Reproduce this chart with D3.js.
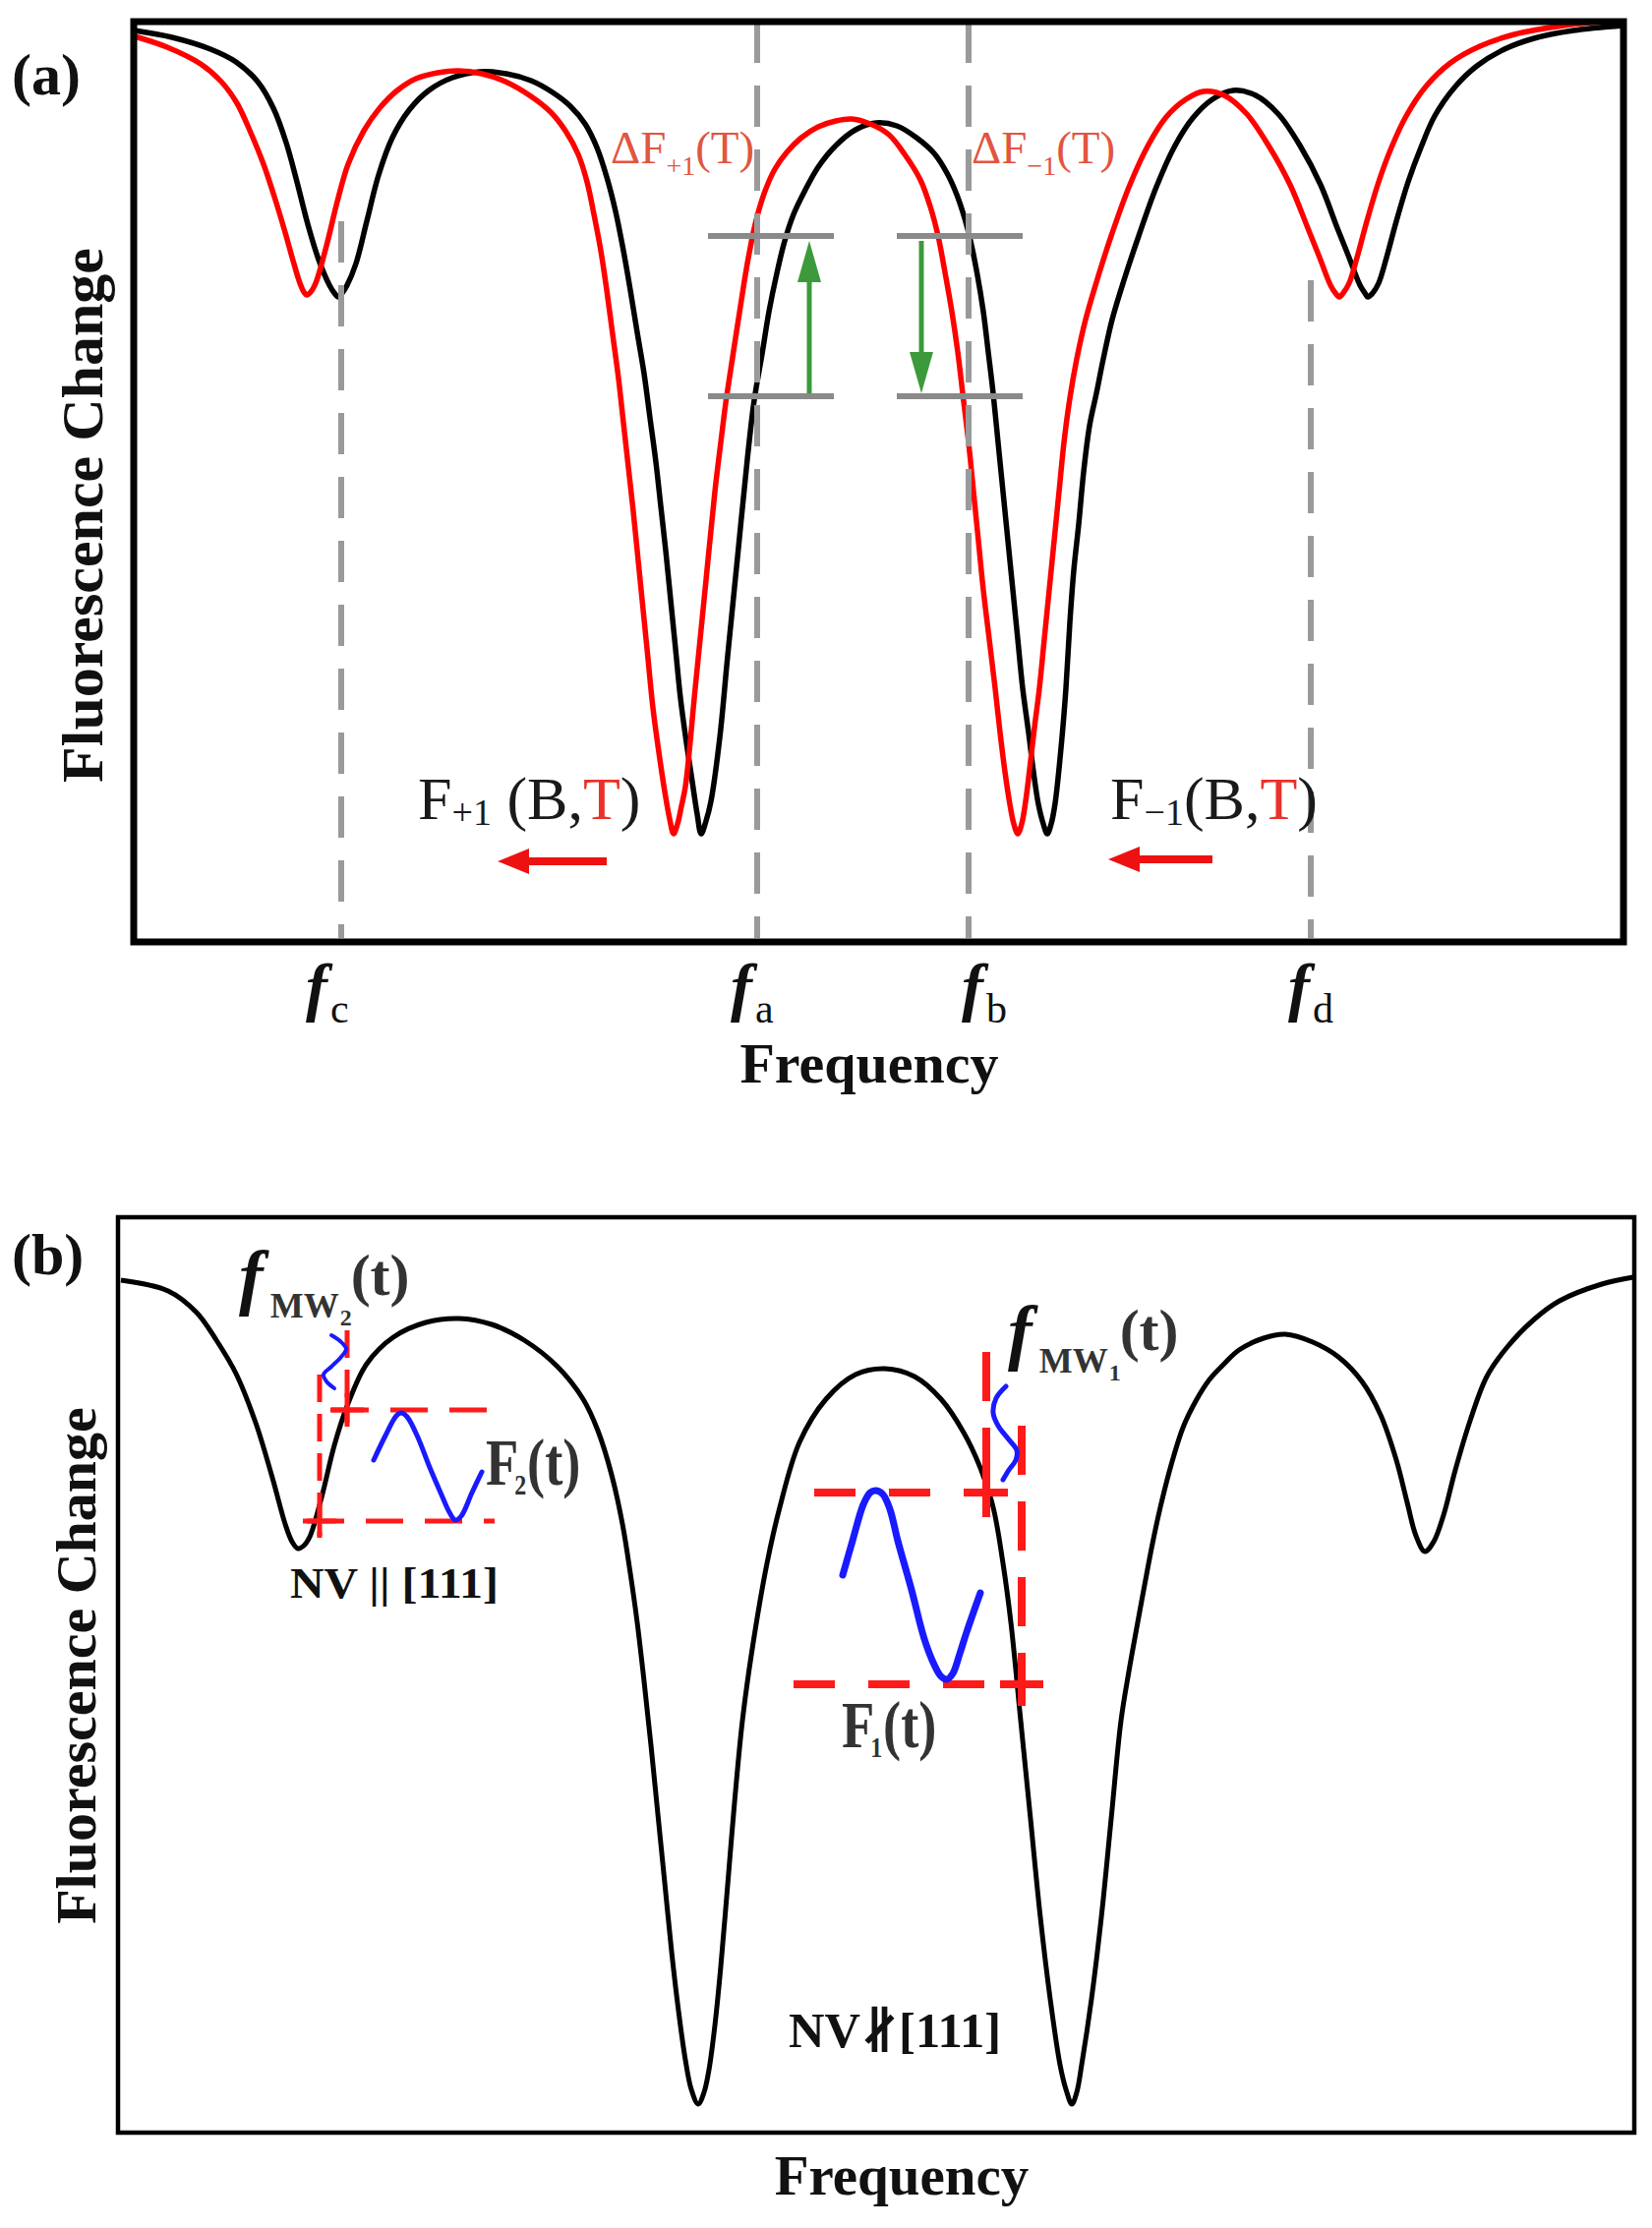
<!DOCTYPE html>
<html><head><meta charset="utf-8">
<script src="https://cdn.jsdelivr.net/npm/d3@7"></script>
<style>
html,body{margin:0;padding:0;background:#fff;}
svg{display:block;}
text{font-family:"Liberation Serif","Times New Roman","DejaVu Serif",serif;}
</style></head><body>
<script>
// ---------------- DATA (arbitrary frequency / fluorescence units) ----------------
// Panel (a): ODMR spectra, black = reference, red = shifted by temperature
const blackA = [[1,927],[39,920],[78,908],[104,895],[126,875],[142,848],[155,813],[166,773],[177,730],[188,694],[199,668],[204,660],[208,656],[212,660],[217,668],[226,690],[237,733],[249,780],[263,818],[280,846],[300,866],[324,879],[352,885],[379,883],[404,876],[426,864],[444,850],[459,832],[471,808],[481,778],[490,743],[498,703],[505,663],[512,620],[519,578],[525,533],[531,488],[536,443],[541,398],[546,348],[551,298],[556,248],[562,203],[568,163],[573,130],[577,110],[582,123],[587,143],[596,208],[604,291],[614,391],[624,491],[631,551],[639,598],[646,641],[654,680],[662,713],[671,740],[682,763],[696,788],[714,810],[734,826],[755,833],[776,830],[796,818],[814,802],[827,782],[837,760],[845,736],[851,713],[858,678],[864,641],[869,600],[874,558],[879,508],[884,458],[889,408],[894,358],[899,308],[904,258],[910,213],[915,173],[920,140],[925,120],[929,110],[933,120],[937,141],[944,208],[948,258],[952,325],[956,378],[961,425],[966,478],[972,525],[979,558],[986,593],[995,633],[1007,673],[1022,718],[1040,768],[1059,810],[1077,838],[1097,857],[1118,866],[1141,861],[1164,842],[1186,810],[1207,770],[1224,726],[1236,696],[1247,668],[1252,660],[1255,656],[1260,660],[1266,670],[1274,696],[1284,733],[1296,773],[1309,808],[1323,840],[1344,870],[1366,891],[1394,908],[1424,919],[1464,927],[1515,932]];
const redA = [[1,921],[34,910],[68,893],[89,875],[105,853],[119,823],[132,791],[143,758],[153,725],[162,693],[169,670],[173,661],[176,658],[180,661],[185,670],[196,708],[207,753],[218,791],[234,825],[250,848],[268,866],[287,878],[309,884],[330,886],[354,883],[378,875],[404,860],[424,844],[439,825],[452,801],[461,773],[468,740],[475,703],[481,663],[487,618],[493,573],[498,528],[503,483],[508,438],[513,388],[518,338],[523,288],[528,238],[534,193],[540,153],[545,125],[549,110],[553,120],[557,138],[561,158],[571,258],[581,358],[591,458],[597,508],[602,548],[608,588],[616,640],[624,690],[632,730],[641,761],[652,786],[664,803],[679,818],[696,829],[714,835],[730,837],[749,832],[768,821],[784,801],[800,775],[810,748],[818,718],[825,681],[832,641],[838,600],[843,558],[849,508],[854,458],[859,408],[864,358],[870,308],[876,258],[881,213],[886,173],[891,140],[895,120],[899,110],[903,120],[907,143],[911,175],[916,218],[921,258],[926,308],[931,358],[936,408],[941,458],[946,508],[952,553],[959,593],[968,633],[979,671],[994,718],[1013,770],[1032,811],[1050,839],[1070,857],[1088,865],[1109,861],[1132,842],[1154,810],[1176,770],[1194,726],[1206,696],[1217,668],[1222,660],[1226,656],[1230,660],[1236,670],[1244,696],[1254,733],[1266,773],[1279,808],[1294,840],[1314,870],[1339,894],[1369,911],[1404,923],[1454,932],[1515,938]];
// frequency markers f_c, f_a, f_b, f_d
const markerNames = ["c","a","b","d"];
const markerFreqs = [211, 634, 849, 1197];
const markerTops  = [733, 936, 936, 673];
// fluorescence levels (grey bars) and their frequency spans
const levelValues = [718, 555];
const levelSpans  = [[584,712],[776,904]];
// green change arrows [freq, from level, to level]
const changeArrows = [[687,558,713],[801,713,558]];
// red shift arrows [from freq, to freq, level]
const shiftArrows = [[481,370,82],[1097,991,84]];

// Panel (b): single ODMR spectrum with modulation sketches
const blackB = [[3,867],[51,856],[80,834],[100,806],[120,772],[140,722],[157,666],[170,619],[177,601],[183,594],[189,597],[195,606],[207,646],[220,699],[233,739],[253,782],[280,809],[313,824],[347,828],[380,822],[413,806],[447,779],[473,746],[488,714],[502,669],[513,619],[521,569],[528,519],[535,459],[542,394],[549,324],[556,254],[563,184],[570,124],[577,74],[583,44],[590,29],[596,41],[601,64],[607,109],[613,169],[620,252],[627,336],[635,419],[645,492],[660,579],[673,636],[693,702],[720,746],[750,771],[780,777],[810,769],[837,746],[860,712],[877,676],[890,636],[900,579],[908,519],[918,419],[928,319],[938,219],[948,136],[958,69],[964,44],[970,29],[975,41],[980,69],[990,136],[1000,219],[1010,319],[1020,419],[1028,469],[1037,519],[1044,557],[1052,599],[1060,636],[1071,679],[1083,717],[1096,744],[1110,766],[1125,782],[1140,796],[1165,808],[1187,812],[1215,804],[1241,789],[1265,764],[1284,730],[1300,684],[1311,641],[1320,607],[1329,591],[1338,601],[1348,628],[1360,674],[1375,724],[1392,769],[1412,798],[1440,827],[1466,846],[1509,863],[1541,870]];
// microwave modulation f_MW(t) and fluorescence response F(t) sketches
const mwWave2 = [[217,811],[226,805],[232,797],[227,789],[217,779],[209,771],[212,764],[220,757]];
const fWave2  = [[260,684],[272,709],[283,729],[288,732],[294,728],[305,707],[316,679],[328,651],[337,631],[343,623],[349,627],[360,651],[370,672]];
const mwWave1 = [[903,759],[893,747],[890,732],[895,719],[905,706],[914,694],[913,684],[906,674],[900,664]];
const fWave1  = [[737,567],[747,602],[758,639],[765,651],[771,653],[778,649],[785,634],[793,602],[807,552],[820,502],[830,476],[837,464],[843,461],[849,467],[856,487],[863,509],[877,549]];
// guide lines: verticals [freq, y1, y2], horizontals [level, x1, x2], crossings
const guideV2 = [[205,771,607],[233,816,722]];
const guideH2 = [[735,217,375],[622,192,383]];
const cross2  = [[233,735],[205,622]];
const guideV1 = [[883,794,626],[919,719,434]];
const guideH1 = [[651,708,902],[456,687,932]];
const cross1  = [[883,651],[919,456]];

// ---------------- LAYOUT ----------------
const W = 1680, H = 2266;
const svg = d3.select("body").append("svg").attr("width", W).attr("height", H);
svg.append("rect").attr("width", W).attr("height", H).attr("fill", "#fff");
const defs = svg.append("defs");

function txt(g, x, y, s, o) {
  o = o || {};
  const t = g.append("text")
    .attr("transform", `translate(${x},${y}) scale(${o.sx || 1},1)`)
    .attr("font-size", o.size || 40)
    .attr("font-weight", o.bold ? "bold" : "normal")
    .attr("font-style", o.italic ? "italic" : "normal")
    .attr("fill", o.color || "#111")
    .attr("text-anchor", o.anchor || "start")
    .text(s);
  if (o.len) t.attr("textLength", o.len).attr("lengthAdjust", "spacingAndGlyphs");
  return t;
}
function arrow(g, x1, y1, x2, y2, color, w, hl, hw) {
  const dx = x2 - x1, dy = y2 - y1, L = Math.hypot(dx, dy);
  const ux = dx / L, uy = dy / L, px = -uy, py = ux;
  const bx = x2 - ux * hl, by = y2 - uy * hl;
  g.append("line").attr("x1", x1).attr("y1", y1).attr("x2", bx + ux * 2).attr("y2", by + uy * 2)
    .attr("stroke", color).attr("stroke-width", w);
  g.append("path").attr("d", `M${x2},${y2}L${bx + px * hw},${by + py * hw}L${bx - px * hw},${by - py * hw}Z`)
    .attr("fill", color);
}

// ================= PANEL (a) =================
const A = {left: 136, right: 1651, top: 22, bottom: 958};
const xA = d3.scaleLinear().domain([0, 1515]).range([A.left, A.right]);
const yA = d3.scaleLinear().domain([0, 936]).range([A.bottom, A.top]);
const gA = svg.append("g");
defs.append("clipPath").attr("id", "clipA").append("rect")
  .attr("x", A.left).attr("y", A.top).attr("width", A.right - A.left).attr("height", A.bottom - A.top);
const lineA = d3.line().x(d => xA(d[0])).y(d => yA(d[1])).curve(d3.curveCatmullRom.alpha(0.5));
const curvesA = gA.append("g").attr("clip-path", "url(#clipA)");
curvesA.append("path").datum(blackA).attr("d", lineA).attr("fill", "none").attr("stroke", "#000").attr("stroke-width", 5.5).attr("stroke-linejoin", "round");
curvesA.append("path").datum(redA).attr("d", lineA).attr("fill", "none").attr("stroke", "#ff0000").attr("stroke-width", 5.5).attr("stroke-linejoin", "round");

// dashed frequency markers
markerFreqs.forEach((f, i) => {
  gA.append("line").attr("x1", xA(f)).attr("x2", xA(f))
    .attr("y1", yA(markerTops[i])).attr("y2", yA(4))
    .attr("stroke", "#9a9a9a").attr("stroke-width", 6).attr("stroke-dasharray", "42,23");
});
// grey level bars
levelValues.forEach(v => levelSpans.forEach(s => {
  gA.append("line").attr("x1", xA(s[0])).attr("x2", xA(s[1])).attr("y1", yA(v)).attr("y2", yA(v))
    .attr("stroke", "#8a8a8a").attr("stroke-width", 6);
}));
// green arrows
changeArrows.forEach(a => arrow(gA, xA(a[0]), yA(a[1]), xA(a[0]), yA(a[2]), "#3c9a3c", 5, 42, 12));
// red shift arrows
shiftArrows.forEach(a => arrow(gA, xA(a[0]), yA(a[2]), xA(a[1]), yA(a[2]), "#ee1111", 8, 32, 13));

// frame
gA.append("rect").attr("x", A.left).attr("y", A.top).attr("width", A.right - A.left).attr("height", A.bottom - A.top)
  .attr("fill", "none").attr("stroke", "#000").attr("stroke-width", 7);

// ΔF labels
function dfLabel(x, sub) {
  const t = gA.append("text").attr("x", x).attr("y", 166).attr("font-size", 47).attr("fill", "#e2553f");
  t.append("tspan").text("ΔF");
  t.append("tspan").attr("font-size", 28).attr("dy", 12).text(sub);
  t.append("tspan").attr("dy", -12).text("(T)");
}
dfLabel(621, "+1");
dfLabel(988, "−1");

// F(B,T) labels
function fbtLabel(x, sub, space) {
  const t = gA.append("text").attr("x", x).attr("y", 833).attr("font-size", 62).attr("fill", "#1a1a1a");
  t.append("tspan").text("F");
  t.append("tspan").attr("font-size", 38).attr("dy", 6).text(sub);
  t.append("tspan").attr("dy", -6).text((space ? " " : "") + "(B,");
  t.append("tspan").attr("fill", "#e8322a").text("T");
  t.append("tspan").text(")");
}
fbtLabel(425, "+1", true);
fbtLabel(1129, "−1", false);

// marker tick labels f_c, f_a, f_b, f_d
const labelDx = [-36, -27, -7, -23];
markerFreqs.forEach((f, i) => {
  const x0 = xA(f) + labelDx[i];
  const t = gA.append("text").attr("x", x0).attr("y", 1026).attr("fill", "#111");
  t.append("tspan").attr("font-size", 66).attr("font-weight", "bold").attr("font-style", "italic").text("f");
  t.append("tspan").attr("font-size", 42).attr("dx", 3).attr("dy", 14).text(markerNames[i]);
});
txt(gA, 884, 1101, "Frequency", {size: 58, bold: true, anchor: "middle"});
gA.append("text").attr("transform", "translate(104,524) rotate(-90)").attr("text-anchor", "middle")
  .attr("font-size", 60).attr("font-weight", "bold").attr("fill", "#111").text("Fluorescence Change");
txt(gA, 12, 96, "(a)", {size: 60, bold: true});

// ================= PANEL (b) =================
const B = {left: 120, right: 1662, top: 1238, bottom: 2169};
const xB = d3.scaleLinear().domain([0, 1542]).range([B.left, B.right]);
const yB = d3.scaleLinear().domain([0, 931]).range([B.bottom, B.top]);
const gB = svg.append("g");
defs.append("clipPath").attr("id", "clipB").append("rect")
  .attr("x", B.left).attr("y", B.top).attr("width", B.right - B.left).attr("height", B.bottom - B.top);
const lineB = d3.line().x(d => xB(d[0])).y(d => yB(d[1])).curve(d3.curveCatmullRom.alpha(0.5));
gB.append("g").attr("clip-path", "url(#clipB)").append("path").datum(blackB).attr("d", lineB)
  .attr("fill", "none").attr("stroke", "#000").attr("stroke-width", 5).attr("stroke-linejoin", "round");

// red guides
function guides(vs, hs, cs, w, dashV, dashH, arm) {
  vs.forEach(v => gB.append("line").attr("x1", xB(v[0])).attr("x2", xB(v[0])).attr("y1", yB(v[1])).attr("y2", yB(v[2]))
    .attr("stroke", "#ff1a1a").attr("stroke-width", w).attr("stroke-dasharray", dashV));
  hs.forEach(h => gB.append("line").attr("x1", xB(h[1])).attr("x2", xB(h[2])).attr("y1", yB(h[0])).attr("y2", yB(h[0]))
    .attr("stroke", "#ff1a1a").attr("stroke-width", w).attr("stroke-dasharray", dashH));
  cs.forEach(c => {
    const cx = xB(c[0]), cy = yB(c[1]);
    gB.append("line").attr("x1", cx - arm).attr("x2", cx + arm).attr("y1", cy).attr("y2", cy).attr("stroke", "#ff1a1a").attr("stroke-width", w);
    gB.append("line").attr("x1", cx).attr("x2", cx).attr("y1", cy - arm).attr("y2", cy + arm).attr("stroke", "#ff1a1a").attr("stroke-width", w);
  });
}
guides(guideV2, guideH2, cross2, 5, "28,12", "38,22", 17);
guides(guideV1, guideH1, cross1, 8, "50,27", "42,34", 22);

// blue sketches
const lineW = d3.line().x(d => xB(d[0])).y(d => yB(d[1])).curve(d3.curveCatmullRom.alpha(0.5));
[[mwWave2, 4], [fWave2, 5], [mwWave1, 5], [fWave1, 7]].forEach(([d, w]) => {
  gB.append("path").datum(d).attr("d", lineW).attr("fill", "none").attr("stroke", "#1a1aff")
    .attr("stroke-width", w).attr("stroke-linecap", "round").attr("stroke-linejoin", "round");
});

// frame
gB.append("rect").attr("x", B.left).attr("y", B.top).attr("width", B.right - B.left).attr("height", B.bottom - B.top)
  .attr("fill", "none").attr("stroke", "#000").attr("stroke-width", 4.5);

// f_MW labels (one text each)
function fmw(x0, yBase, sub) {
  const t = gB.append("text").attr("x", x0).attr("y", yBase).attr("font-weight", "bold").attr("fill", "#333");
  t.append("tspan").attr("font-size", 74).attr("font-style", "italic").attr("fill", "#111").text("f");
  t.append("tspan").attr("font-size", 36).attr("dx", 7).attr("dy", 17).text("MW");
  t.append("tspan").attr("font-size", 24).attr("dx", 1).attr("dy", 8).text(sub);
  t.append("tspan").attr("font-size", 60).attr("dx", -1).attr("dy", -31).text("(t)");
}
fmw(243, 1323, "2");
fmw(1025, 1379, "1");
// F(t) labels (one text each)
function fLabel(x0, yBase, sub) {
  const t = gB.append("text").attr("transform", `translate(${x0},${yBase}) scale(0.8,1)`)
    .attr("font-weight", "bold").attr("fill", "#333").attr("font-size", 68);
  t.append("tspan").text("F");
  t.append("tspan").attr("font-size", 30).attr("dx", -5).attr("dy", 10).text(sub);
  t.append("tspan").attr("dx", 1).attr("dy", -10).text("(t)");
}
fLabel(494, 1510, "2");
fLabel(856, 1777, "1");
txt(gB, 295, 1625, "NV || [111]", {size: 45, bold: true, color: "#111", len: 212});
txt(gB, 802, 2082, "NV∦[111]", {size: 50, bold: true, color: "#111", len: 216});
txt(gB, 917, 2232, "Frequency", {size: 57, bold: true, anchor: "middle"});
gB.append("text").attr("transform", "translate(97,1694) rotate(-90)").attr("text-anchor", "middle")
  .attr("font-size", 58).attr("font-weight", "bold").attr("fill", "#111").text("Fluorescence Change");
txt(gB, 12, 1296, "(b)", {size: 60, bold: true});
</script>
</body></html>
